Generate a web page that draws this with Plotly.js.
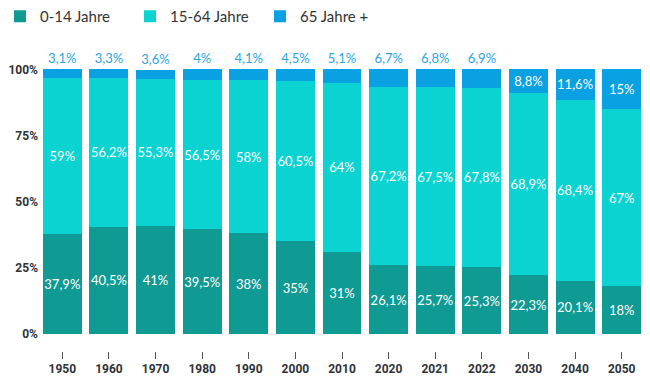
<!DOCTYPE html>
<html><head><meta charset="utf-8">
<script src="https://cdn.plot.ly/plotly-3.0.1.min.js"></script>
<style>html,body{margin:0;padding:0;background:#fff}#chart{width:650px;height:381px}</style>
</head><body><div id="chart"></div>
<script>
const years = ['1950','1960','1970','1980','1990','2000','2010','2020','2021','2022','2030','2040','2050'];
const young = [37.9,40.5,41,39.5,38,35,31,26.1,25.7,25.3,22.3,20.1,18];
const working = [59,56.2,55.3,56.5,58,60.5,64,67.2,67.5,67.8,68.9,68.4,67];
const old = [3.1,3.3,3.6,4,4.1,4.5,5.1,6.7,6.8,6.9,8.8,11.6,15];
const oldInside = [false,false,false,false,false,false,false,false,false,false,true,true,true];

const fmt = v => String(v).replace('.', ',') + '%';
const FONT = 'Lato, "Open Sans", sans-serif';

const common = {type:'bar', textangle:0, constraintext:'none', cliponaxis:false,
                insidetextanchor:'middle', hoverinfo:'none'};

const traces = [
  Object.assign({}, common, {name:'0-14 Jahre', x:years, y:young, marker:{color:'#0f9a93'},
   text:young.map(fmt), textposition:'inside',
   textfont:{color:'#ffffff', size:13, family:FONT}}),
  Object.assign({}, common, {name:'15-64 Jahre', x:years, y:working, marker:{color:'#0bd3d1'},
   text:working.map(fmt), textposition:'inside',
   textfont:{color:'#ffffff', size:13, family:FONT}}),
  Object.assign({}, common, {name:'65 Jahre +', x:years, y:old, marker:{color:'#0aa1e2'},
   text:old.map(fmt), textposition:oldInside.map(b => b ? 'inside' : 'outside'),
   insidetextfont:{color:'#ffffff', size:13, family:FONT},
   outsidetextfont:{color:'#2aa6e0', size:13, family:FONT},
   textfont:{size:13, family:FONT}})
];

const layout = {
  width:650, height:381,
  barmode:'stack', bargap:0.164,
  margin:{l:39, r:5, t:68, b:30},
  paper_bgcolor:'#ffffff', plot_bgcolor:'#ffffff',
  font:{family:FONT, color:'#2e3338'},
  showlegend:true,
  legend:{orientation:'h', xref:'container', yref:'container', x:0, y:1, xanchor:'left', yanchor:'top',
          font:{size:15, color:'#333', family:FONT}, itemwidth:30,
          entrywidth:85, entrywidthmode:'pixels', traceorder:'normal'},
  xaxis:{type:'category', showgrid:false, zeroline:false, showline:false,
         ticks:'outside', ticklen:7, tickwidth:1, tickcolor:'#555',
         tickfont:{size:12, color:'#2e3338', family:'Roboto, sans-serif', weight:'bold'}},
  yaxis:{range:[-6.4,100.5], showgrid:false, zeroline:false, showline:false,
         tickvals:[0,25,50,75,100], ticktext:['0%','25%','50%','75%','100%'],
         tickfont:{size:12, color:'#2e3338', family:'Roboto, sans-serif', weight:'bold'}}
};

Plotly.newPlot('chart', traces, layout, {displayModeBar:false, staticPlot:true});
</script></body></html>
